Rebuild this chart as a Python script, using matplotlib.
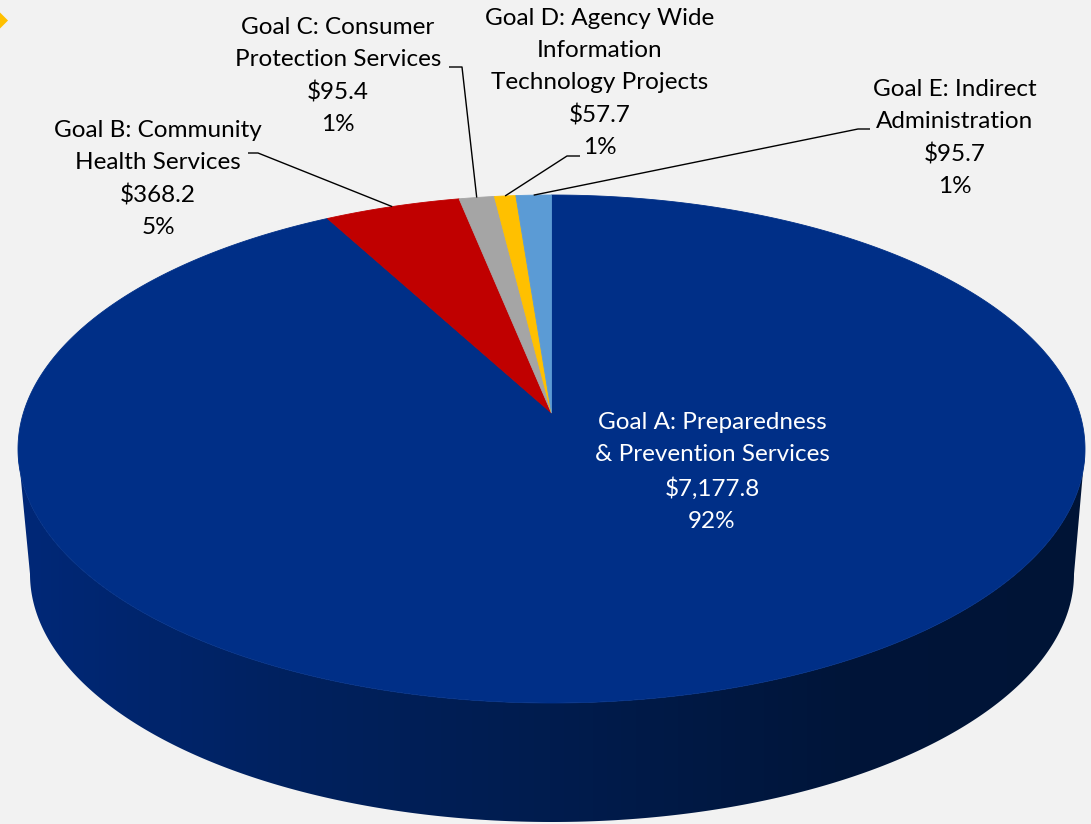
import numpy as np
import matplotlib
matplotlib.use("Agg")
import matplotlib.pyplot as plt
from matplotlib.patches import Polygon

# ---------------- data ----------------
categories = [
    "Goal A: Preparedness\n& Prevention Services",
    "Goal B: Community\nHealth Services",
    "Goal C: Consumer\nProtection Services",
    "Goal D: Agency Wide\nInformation\nTechnology Projects",
    "Goal E: Indirect\nAdministration",
]
values = [7177.8, 368.2, 95.4, 57.7, 95.7]
colors = ["#002F87", "#C00000", "#A5A5A5", "#FFC000", "#5B9BD5"]

# ---------------- style / geometry ----------------
W, H = 1091, 824
BG = "#F2F2F2"
plt.rcParams['font.family'] = ['Lato', 'DejaVu Sans']

cx, cy, a, b = 551.5, 449.0, 533.5, 254.0      # top face ellipse
bcx, bcy, ba, bb = 552.0, 574.0, 522.0, 248.0  # bottom ellipse
t = (cy - 413.0) / b                            # perspective shift of the pie centre

def proj(phi):
    c, s = np.cos(phi), np.sin(phi)
    X = c * np.sqrt(1 - t * t) / (1 + t * s)
    Y = (s + t) / (1 + t * s)
    return cx + a * X, cy - b * Y

fig = plt.figure(figsize=(W / 100, H / 100), dpi=100)
fig.patch.set_facecolor(BG)
ax = fig.add_axes([0, 0, 1, 1])
ax.set_xlim(0, W)
ax.set_ylim(H, 0)
ax.axis('off')
ax.set_facecolor(BG)

# ---------------- side wall ----------------
th = np.linspace(0, np.pi, 300)
top_arc = np.column_stack([cx + a * np.cos(th), cy + b * np.sin(th)])
bot_arc = np.column_stack([bcx + ba * np.cos(th), bcy + bb * np.sin(th)])
side = np.vstack([top_arc, bot_arc[::-1]])
side_poly = Polygon(side, closed=True, facecolor='none', edgecolor='none')
ax.add_patch(side_poly)
xs_key = np.array([18, 300, 550, 850, 1086])
rgb_key = np.array([[0, 40, 120], [0, 33, 94], [0, 28, 78], [0, 21, 57], [0, 20, 54]]) / 255
gx = np.linspace(18, 1086, 600)
grad = np.stack([np.interp(gx, xs_key, rgb_key[:, k]) for k in range(3)], axis=-1)[None, :, :]
im = ax.imshow(grad, extent=[18, 1086, 824, 440], aspect='auto', zorder=1, interpolation='bilinear')
im.set_clip_path(side_poly)

# ---------------- top slices ----------------
total = sum(values)
cum = np.concatenate([[0], np.cumsum(values)]) / total
starts = np.pi / 2 - 2 * np.pi * cum[:-1]
ends = np.pi / 2 - 2 * np.pi * cum[1:]
apex = (cx, cy - b * t)
mids = []
for i, (s0, s1) in enumerate(zip(starts, ends)):
    n = max(int(abs(s1 - s0) * 200), 8)
    ph = np.linspace(s0, s1, n)
    px, py = proj(ph)
    pts = np.vstack([[apex], np.column_stack([px, py])])
    ax.add_patch(Polygon(pts, closed=True, facecolor=colors[i], edgecolor=colors[i],
                         lw=0.6, zorder=2))
    mids.append(proj((s0 + s1) / 2))

# ---------------- labels ----------------
label_text = [f"{c}\n${v:,.1f}\n{round(100 * v / total):.0f}%" for c, v in zip(categories, values)]
fs = 17.5
lsp = 1.64
label_pos = [(712, 472), (158, 179), (338, 76), (600, 83), (955, 138)]
for i, (txt, (lx, ly)) in enumerate(zip(label_text, label_pos)):
    ax.text(lx, ly, txt, ha='center', va='center', fontsize=fs, linespacing=lsp,
            color='white' if i == 0 else 'black', zorder=5, multialignment='center')

# leader lines: label anchor -> short horizontal -> slice rim midpoint
leaders = {1: [(248, 153), (258, 153)],
           2: [(449, 67), (462, 67)],
           3: [(580, 156), (567, 156)],
           4: [(870, 129), (858, 129)]}
for i, pts in leaders.items():
    xs = [p[0] for p in pts] + [mids[i][0]]
    ys = [p[1] for p in pts] + [mids[i][1]]
    ax.plot(xs, ys, color='black', lw=1.0, zorder=4, solid_capstyle='butt')

# small decorative diamond at the top-left corner
ax.add_patch(Polygon([(-8, 20.5), (0, 12.5), (8, 20.5), (0, 28.5)], closed=True,
                     facecolor="#FFC000", edgecolor='none', zorder=3))

fig.savefig("out.png", dpi=100, facecolor=BG)
